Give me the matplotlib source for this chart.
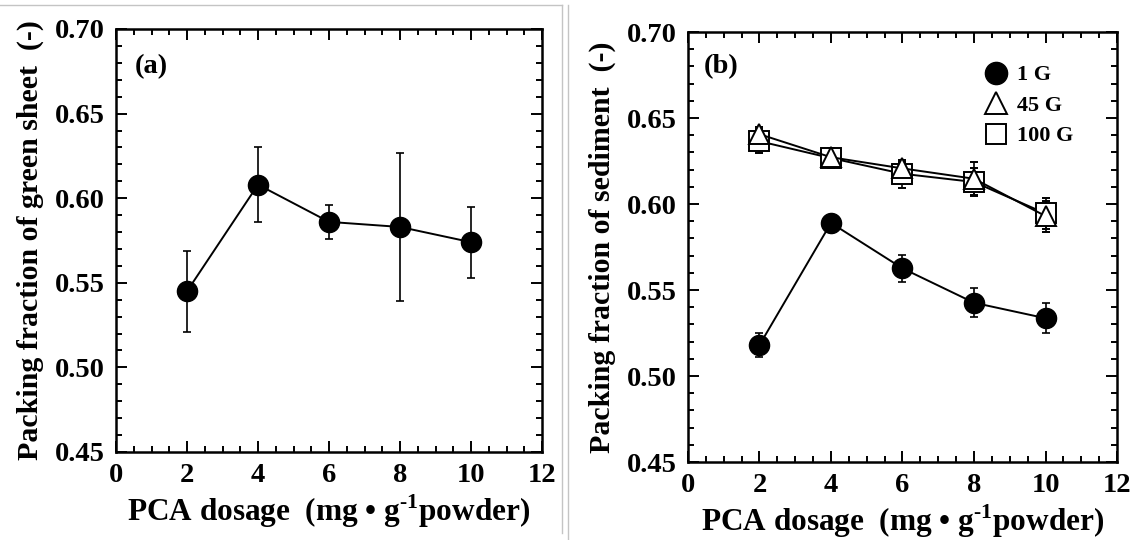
import matplotlib
matplotlib.use("Agg")
import matplotlib.pyplot as plt
from matplotlib.lines import Line2D
from matplotlib.ticker import MultipleLocator, FormatStrFormatter

plt.rcParams["font.family"] = ["Liberation Serif", "DejaVu Serif"]
plt.rcParams["font.weight"] = "bold"
plt.rcParams["mathtext.fontset"] = "custom"
plt.rcParams["mathtext.rm"] = "Liberation Serif:bold"
plt.rcParams["mathtext.bf"] = "Liberation Serif:bold"

# PCA dosage (mg/g powder)
dosage = [2, 4, 6, 8, 10]

# (a) green sheet
green_sheet = [0.545, 0.608, 0.586, 0.583, 0.574]
green_sheet_err = [0.024, 0.022, 0.010, 0.044, 0.021]

# (b) sediment at 1 G, 45 G, 100 G
sed_1g = [0.518, 0.589, 0.5626, 0.5426, 0.5336]
sed_1g_err = [0.007, 0.004, 0.0077, 0.0083, 0.0088]
sed_45g = [0.6406, 0.6272, 0.6207, 0.6147, 0.593]
sed_45g_err = [0.004, 0.004, 0.004, 0.0095, 0.009]
sed_100g = [0.6365, 0.6267, 0.6176, 0.6128, 0.5945]
sed_100g_err = [0.007, 0.006, 0.008, 0.008, 0.009]

series_labels = ["1 G", "45 G", "100 G"]

TICK_FS = 20.5
YLABEL_FS = 21.5
XLABEL_FS = 22.5
XLABEL = "PCA dosage  (mg \u2022 g$^{\\text{-1}}$powder)"


def style_axes(ax):
    ax.set_xlim(0, 12)
    ax.set_ylim(0.45, 0.70)
    ax.xaxis.set_major_locator(MultipleLocator(2))
    ax.xaxis.set_minor_locator(MultipleLocator(0.5))
    ax.yaxis.set_major_locator(MultipleLocator(0.05))
    ax.yaxis.set_minor_locator(MultipleLocator(0.01))
    ax.yaxis.set_major_formatter(FormatStrFormatter("%.2f"))
    ax.tick_params(which="both", direction="in", top=True, right=True, width=1.4)
    ax.tick_params(which="major", length=8, labelsize=TICK_FS, pad=8)
    ax.tick_params(which="minor", length=4)
    for s in ax.spines.values():
        s.set_linewidth(1.8)


fig = plt.figure(figsize=(11.33, 5.4), dpi=100)

# thin grey frame lines of the original composite
grey = "#c4c4c4"
fig.add_artist(Line2D([0, 562 / 1133], [1 - 5 / 540, 1 - 5 / 540], color=grey, lw=1))
fig.add_artist(Line2D([562 / 1133, 562 / 1133], [1 - 5 / 540, 1 - 533 / 540], color=grey, lw=1))
fig.add_artist(Line2D([568 / 1133, 568 / 1133], [1 - 5 / 540, 0], color=grey, lw=1))

err_kw = dict(color="black", lw=1.4, elinewidth=1.2, capsize=3, capthick=1.2)

# ---- panel (a)
ax1 = fig.add_axes([0.1024, 0.163, 0.376, 0.7833])
ax1.errorbar(dosage, green_sheet, yerr=green_sheet_err, marker="o", ms=14.5,
             mfc="black", mec="black", **err_kw)
style_axes(ax1)
ax1.set_xlabel(XLABEL, fontsize=XLABEL_FS, fontweight="bold", labelpad=3)
ax1.set_ylabel("Packing fraction of green sheet  (-)", fontsize=YLABEL_FS,
               fontweight="bold", labelpad=8)
ax1.text(0.045, 0.91, "(a)", transform=ax1.transAxes, fontsize=20.5,
         fontweight="bold", va="center", ha="left")

# ---- panel (b)
ax2 = fig.add_axes([0.6072, 0.1444, 0.3787, 0.7963])
ax2.errorbar(dosage, sed_1g, yerr=sed_1g_err, marker="o", ms=14.5,
             mfc="black", mec="black", **err_kw)
ax2.errorbar(dosage, sed_100g, yerr=sed_100g_err, marker="s", ms=14.5,
             mfc="white", mec="black", mew=1.4, **err_kw)
ax2.errorbar(dosage, sed_45g, yerr=sed_45g_err, marker="^", ms=15,
             mfc="white", mec="black", mew=1.4, **err_kw)
style_axes(ax2)
ax2.set_xlabel(XLABEL, fontsize=XLABEL_FS, fontweight="bold", labelpad=3)
ax2.set_ylabel("Packing fraction of sediment  (-)", fontsize=YLABEL_FS,
               fontweight="bold", labelpad=8)
ax2.text(0.037, 0.919, "(b)", transform=ax2.transAxes, fontsize=20.5,
         fontweight="bold", va="center", ha="left")

handles = [
    Line2D([], [], ls="none", marker="o", ms=16, mfc="black", mec="black"),
    Line2D([], [], ls="none", marker="^", ms=16, mfc="white", mec="black", mew=1.4),
    Line2D([], [], ls="none", marker="s", ms=15, mfc="white", mec="black", mew=1.4),
]
ax2.legend(handles, series_labels, loc="upper right", bbox_to_anchor=(0.935, 0.96),
           frameon=False, fontsize=16, handletextpad=0.35, labelspacing=0.45,
           borderpad=0.2, handlelength=1.2)

fig.savefig("out.png", dpi=100)
